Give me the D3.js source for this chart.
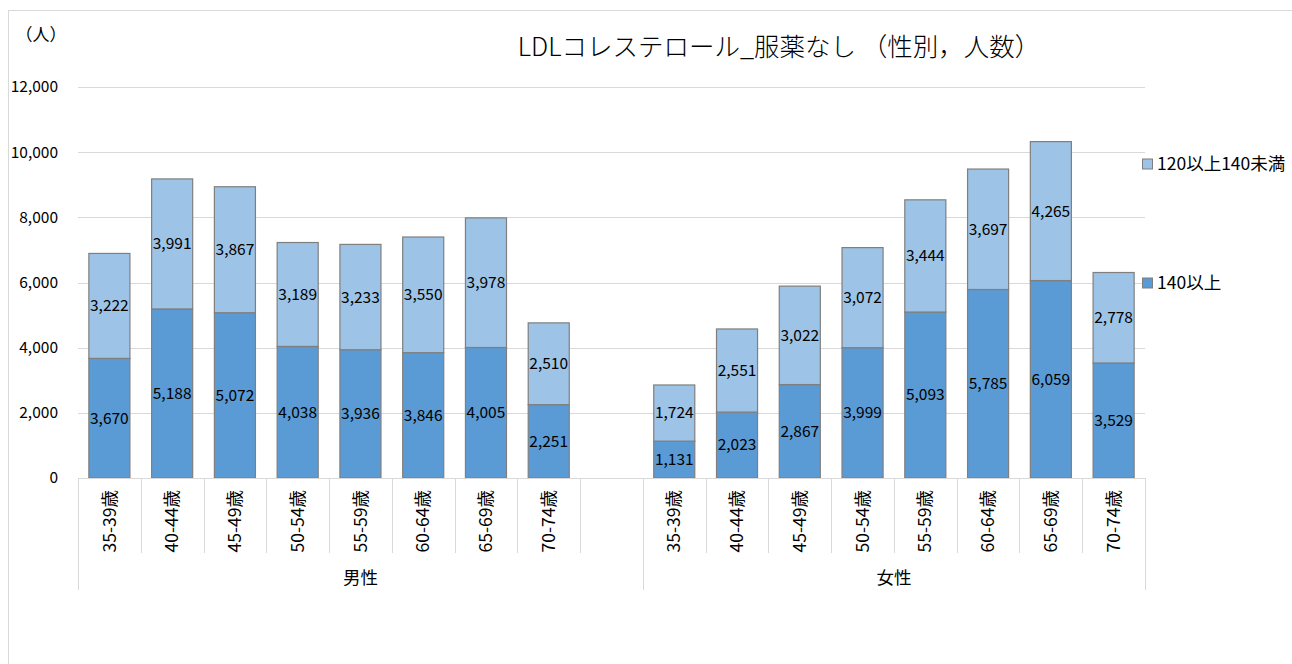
<!DOCTYPE html>
<html>
<head>
<meta charset="utf-8">
<script src="https://cdn.jsdelivr.net/npm/d3@7"></script>
<style>
  html, body { margin: 0; padding: 0; background: #fff; }
  svg { display: block; font-family: "Noto Sans CJK JP", "Noto Sans", sans-serif; }
</style>
</head>
<body>
<svg id="chart" width="1292" height="664"></svg>
<script>
// Age bands shown for each sex
const ageGroups = ["35-39歳", "40-44歳", "45-49歳", "50-54歳", "55-59歳", "60-64歳", "65-69歳", "70-74歳"];
const sexes = ["男性", "女性"];

// LDL 140 and above (people)
const maleHigh   = [3670, 5188, 5072, 4038, 3936, 3846, 4005, 2251];
const femaleHigh = [1131, 2023, 2867, 3999, 5093, 5785, 6059, 3529];
// LDL 120 to under 140 (people)
const maleMid    = [3222, 3991, 3867, 3189, 3233, 3550, 3978, 2510];
const femaleMid  = [1724, 2551, 3022, 3072, 3444, 3697, 4265, 2778];

const seriesNames = ["140以上", "120以上140未満"];
const yTicks = [0, 2000, 4000, 6000, 8000, 10000, 12000];

const colors = { high: "#5B9BD5", mid: "#9DC3E6", edge: "#7f7f7f", grid: "#d9d9d9" };

// Category slots: 8 male, one empty slot, 8 female
const slots = [];
ageGroups.forEach((a, i) => slots.push({ key: "m" + i, label: a, sex: 0, high: maleHigh[i], mid: maleMid[i] }));
slots.push({ key: "gap", label: "", sex: 0, high: null, mid: null });
ageGroups.forEach((a, i) => slots.push({ key: "f" + i, label: a, sex: 1, high: femaleHigh[i], mid: femaleMid[i] }));

const svg = d3.select("#chart");
const plot = { left: 78, right: 1145, top: 87, bottom: 478 };

const x = d3.scaleBand()
  .domain(slots.map(d => d.key))
  .range([plot.left, plot.right])
  .paddingInner(0.33)
  .paddingOuter(0.165);

const y = d3.scaleLinear().domain([0, 12000]).range([plot.bottom, plot.top]);

// Chart frame
svg.append("rect")
  .attr("x", 8.5).attr("y", 10.5)
  .attr("width", 1300).attr("height", 700)
  .attr("fill", "none").attr("stroke", "#d9d9d9");

// Horizontal gridlines
svg.append("g").selectAll("line")
  .data(yTicks.filter(t => t > 0))
  .join("line")
  .attr("x1", plot.left).attr("x2", plot.right)
  .attr("y1", d => Math.round(y(d)) + 0.5).attr("y2", d => Math.round(y(d)) + 0.5)
  .attr("stroke", colors.grid);

// Y axis labels
const yAxis = d3.axisLeft(y).tickValues(yTicks).tickSize(0).tickPadding(0)
  .tickFormat(d3.format(","));
const yg = svg.append("g").attr("transform", `translate(58,0)`).call(yAxis);
yg.select(".domain").remove();
yg.selectAll("text").attr("font-size", 15.5).attr("fill", "#000")
  .attr("font-family", "'Noto Sans CJK JP', sans-serif");

// Unit label
svg.append("text").attr("x", 41).attr("y", 41).attr("text-anchor", "middle")
  .attr("font-size", 17).attr("fill", "#000").text("（人）");

// Title
svg.append("text").attr("x", 779).attr("y", 56).attr("text-anchor", "middle")
  .attr("font-size", 25.5).attr("font-weight", 300).attr("fill", "#000")
  .text("LDLコレステロール_服薬なし （性別，人数）");

// Stacked bars
const bars = svg.append("g");
const filled = slots.filter(d => d.high !== null);
bars.selectAll("rect.high").data(filled).join("rect")
  .attr("class", "high")
  .attr("x", d => x(d.key) + 0.5).attr("width", x.bandwidth() - 1)
  .attr("y", d => y(d.high)).attr("height", d => y(0) - y(d.high))
  .attr("fill", colors.high).attr("stroke", colors.edge).attr("stroke-width", 1.2);
bars.selectAll("rect.mid").data(filled).join("rect")
  .attr("class", "mid")
  .attr("x", d => x(d.key) + 0.5).attr("width", x.bandwidth() - 1)
  .attr("y", d => y(d.high + d.mid)).attr("height", d => y(d.high) - y(d.high + d.mid))
  .attr("fill", colors.mid).attr("stroke", colors.edge).attr("stroke-width", 1.2);

// Value labels centered in each segment
const fmt = d3.format(",");
const labels = svg.append("g").attr("font-size", 15.5).attr("fill", "#000").attr("text-anchor", "middle");
labels.selectAll("text.h").data(filled).join("text")
  .attr("x", d => x(d.key) + x.bandwidth() / 2)
  .attr("y", d => y(d.high / 2)).attr("dy", "0.35em")
  .text(d => fmt(d.high));
labels.selectAll("text.m").data(filled).join("text")
  .attr("x", d => x(d.key) + x.bandwidth() / 2)
  .attr("y", d => y(d.high + d.mid / 2)).attr("dy", "0.35em")
  .text(d => fmt(d.mid));

// Category axis line
svg.append("line")
  .attr("x1", plot.left).attr("x2", plot.right)
  .attr("y1", plot.bottom + 0.5).attr("y2", plot.bottom + 0.5)
  .attr("stroke", colors.grid);

// Category dividers: short between ages, long between sexes
const step = x.step();
const bounds = d3.range(slots.length + 1).map(i => ({
  x: plot.left + i * step,
  long: i === 0 || i === 9 || i === slots.length
}));
svg.append("g").selectAll("line").data(bounds).join("line")
  .attr("x1", d => Math.round(d.x) + 0.5).attr("x2", d => Math.round(d.x) + 0.5)
  .attr("y1", plot.bottom).attr("y2", d => d.long ? 590 : 553)
  .attr("stroke", colors.grid);

// Age labels, rotated
svg.append("g").selectAll("text").data(slots.filter(d => d.label)).join("text")
  .attr("transform", d => `translate(${x(d.key) + x.bandwidth() / 2},490) rotate(-90)`)
  .attr("text-anchor", "end").attr("dy", "0.35em")
  .attr("font-size", 17.5).attr("fill", "#000")
  .text(d => d.label);

// Sex labels
const groupSpan = [[0, 9], [9, 17]];
svg.append("g").selectAll("text").data(sexes).join("text")
  .attr("x", (d, i) => plot.left + (groupSpan[i][0] + groupSpan[i][1]) / 2 * step)
  .attr("y", 584).attr("text-anchor", "middle")
  .attr("font-size", 17.5).attr("fill", "#000")
  .text(d => d);

// Legend
const legendItems = [
  { name: seriesNames[1], color: colors.mid, y: 164 },
  { name: seriesNames[0], color: colors.high, y: 283 }
];
const lg = svg.append("g").selectAll("g").data(legendItems).join("g")
  .attr("transform", d => `translate(1142,${d.y})`);
lg.append("rect").attr("x", 0.5).attr("y", -5).attr("width", 10).attr("height", 10)
  .attr("fill", d => d.color).attr("stroke", colors.edge);
lg.append("text").attr("x", 15).attr("dy", "0.35em")
  .attr("font-size", 17.5).attr("fill", "#000").text(d => d.name);
</script>
</body>
</html>
